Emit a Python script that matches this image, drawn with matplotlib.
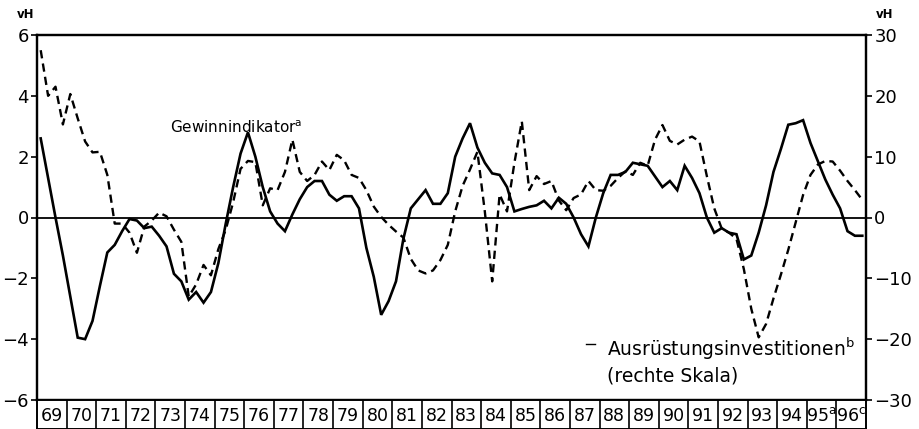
import matplotlib
matplotlib.use("Agg")
import matplotlib.pyplot as plt
import numpy as np

# quarterly values 1969 Q1 .. 1996 Q4
gewinn = [
	2.6, 1.3, 0.0, -1.25, -2.6, -3.95, -4.0, -3.4,
	-2.25, -1.15, -0.9, -0.45, -0.05, -0.1, -0.35, -0.3,
	-0.6, -0.95, -1.85, -2.1, -2.7, -2.45, -2.8, -2.45,
	-1.5, -0.2, 1.0, 2.1, 2.8, 2.0, 1.0, 0.2,
	-0.2, -0.45, 0.1, 0.6, 1.0, 1.2, 1.2, 0.75,
	0.55, 0.7, 0.7, 0.3, -1.0, -1.95, -3.2, -2.75,
	-2.1, -0.7, 0.3, 0.6, 0.9, 0.45, 0.45, 0.8,
	2.0, 2.6, 3.1, 2.3, 1.8, 1.45, 1.4, 1.0,
	0.2, 0.28, 0.35, 0.4, 0.55, 0.3, 0.65, 0.45,
	0.0, -0.55, -0.95, 0.0, 0.8, 1.4, 1.4, 1.5,
	1.8, 1.75, 1.7, 1.35, 1.0, 1.2, 0.9, 1.7,
	1.3, 0.8, 0.0, -0.5, -0.35, -0.5, -0.55, -1.38,
	-1.25, -0.5, 0.4, 1.5, 2.25, 3.05, 3.1, 3.2,
	2.45, 1.85, 1.25, 0.75, 0.3, -0.45, -0.6, -0.6,
]

ausruestung = [
	27.5, 20.0, 21.5, 15.3, 20.3, 16.3, 12.5, 10.7,
	10.8, 7.0, -1.0, -1.0, -2.5, -5.8, -1.5, -0.5,
	0.8, 0.2, -2.0, -4.0, -13.0, -11.0, -7.8, -9.5,
	-5.2, -2.0, 2.5, 8.0, 9.3, 9.1, 2.0, 4.8,
	4.5, 7.5, 12.8, 7.5, 6.0, 7.0, 9.2, 7.8,
	10.3, 9.4, 7.0, 6.5, 4.5, 1.8, 0.1, -1.2,
	-2.3, -3.3, -6.8, -8.7, -9.2, -8.7, -7.0, -4.5,
	1.0, 5.2, 7.9, 10.8, 1.0, -10.5, 3.8, 1.0,
	9.0, 15.8, 4.5, 6.8, 5.5, 6.0, 2.8, 1.2,
	3.2, 3.8, 6.0, 4.5, 4.4, 5.2, 6.5, 7.6,
	7.0, 9.0, 8.5, 12.8, 15.2, 12.6, 12.0, 12.8,
	13.3, 12.5, 6.8, 1.5, -1.8, -2.5, -3.5, -8.5,
	-15.0, -19.7, -17.5, -13.3, -9.4, -5.3, -0.8, 3.7,
	7.0, 8.7, 9.3, 9.2, 7.7, 6.0, 4.5, 2.9,
]

years = list(range(1969, 1997))
year_labels = [str(y)[2:] for y in years]
year_labels[-2] = r"95$^{\mathrm{a}}$"
year_labels[-1] = r"96$^{\mathrm{c}}$"

left_ticks = [-6, -4, -2, 0, 2, 4, 6]
right_ticks = [-30, -20, -10, 0, 10, 20, 30]

t = 1969 + np.arange(len(gewinn)) / 4 + 0.125

plt.rcParams['font.family'] = ['DejaVu Sans']

fig = plt.figure(figsize=(9.2, 4.29), dpi=100)
l, r, b, tp = 37 / 920, 866 / 920, 29 / 429, 394 / 429
ax = fig.add_axes([l, b, r - l, tp - b])
ax2 = ax.twinx()

ax.plot(t, gewinn, color='black', lw=1.9, solid_joinstyle='miter')
ax2.plot(t, ausruestung, color='black', lw=1.7, linestyle=(0, (3.5, 2.2)))
ax.axhline(0, color='black', lw=1.3)

ax.set_xlim(1969, 1997)
ax.set_ylim(-6, 6)
ax2.set_ylim(-30, 30)
ax.set_xticks([])
ax.set_yticks(left_ticks)
ax.set_yticklabels([str(v).replace('-', '\u2212') for v in left_ticks], fontsize=13)
ax2.set_yticks(right_ticks)
ax2.set_yticklabels([str(v).replace('-', '\u2212') for v in right_ticks], fontsize=13)
ax.tick_params(axis='y', direction='out', length=4, width=1.2, pad=2)
ax2.tick_params(axis='y', direction='out', length=4, width=1.2, pad=2)
for a in (ax, ax2):
	for s in a.spines.values():
		s.set_linewidth(1.6)

fig.text(17 / 920, 1 - 14 / 429, 'vH', fontsize=8.5, fontweight='bold', ha='left', va='center')
fig.text(876 / 920, 1 - 14 / 429, 'vH', fontsize=8.5, fontweight='bold', ha='left', va='center')

ax.text(1973.5, 2.95, r'Gewinnindikator$^{\mathrm{a}}$', fontsize=11, ha='left', va='center')
ax.text(1988.25, -4.33, r'Ausrüstungsinvestitionen$^{\mathrm{b}}$', fontsize=13.5, ha='left', va='center')
ax.text(1988.25, -5.2, '(rechte Skala)', fontsize=13.5, ha='left', va='center')
ax.plot([1987.55, 1987.85], [-4.15, -4.15], color='black', lw=1.0)

# year boxes below the plot
axy = fig.add_axes([l, 0.0, r - l, b])
axy.set_xlim(1969, 1997)
axy.set_ylim(0, 1)
axy.set_xticks([])
axy.set_yticks([])
for s in axy.spines.values():
	s.set_linewidth(1.4)
for y in years[1:]:
	axy.axvline(y, color='black', lw=1.2)
for y, lab in zip(years, year_labels):
	axy.text(y + 0.5, 0.45, lab, ha='center', va='center', fontsize=12.5)

fig.savefig('out.png', dpi=100)
